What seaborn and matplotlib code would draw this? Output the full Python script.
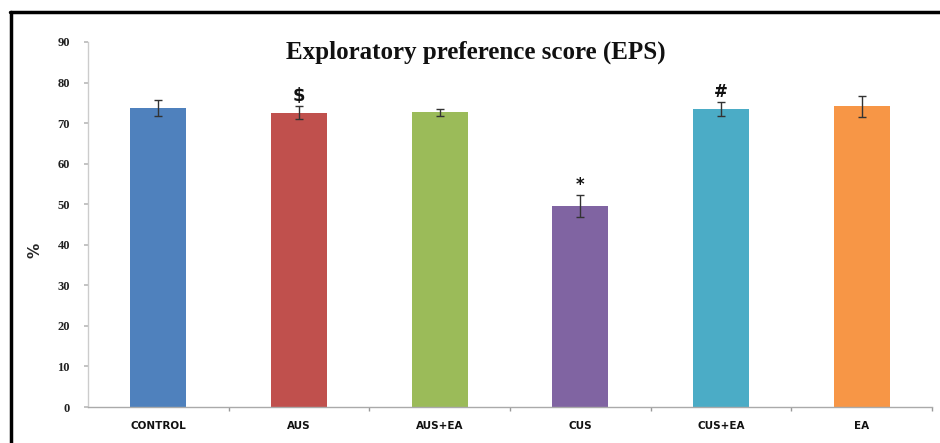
import matplotlib
matplotlib.use("Agg")
import matplotlib.pyplot as plt
from matplotlib.lines import Line2D
from matplotlib.ticker import FixedLocator
import seaborn as sns
import pandas as pd

# Exploratory preference score per group (mean % with SEM)
groups = ["CONTROL", "AUS", "AUS+EA", "CUS", "CUS+EA", "EA"]
eps_mean = [73.7, 72.6, 72.7, 49.6, 73.5, 74.2]
eps_sem = [2.0, 1.6, 0.9, 2.7, 1.8, 2.6]
marks = ["", "$", "", "*", "#", ""]
colors = ["#4F81BD", "#C0504D", "#9BBB59", "#8064A2", "#4BACC6", "#F79646"]
yticks = [0, 10, 20, 30, 40, 50, 60, 70, 80, 90]

df = pd.DataFrame({"group": groups, "eps": eps_mean})

sns.set_theme(style="white")
plt.rcParams["font.family"] = ["DejaVu Sans"]

fig = plt.figure(figsize=(9.4, 4.43), dpi=100)
ax = fig.add_axes([88 / 940, 1 - 407 / 443, (932 - 88) / 940, (407 - 42) / 443])

sns.barplot(data=df, x="group", y="eps", hue="group", palette=colors,
            legend=False, errorbar=None, width=0.4, saturation=1,
            linewidth=0, ax=ax)

xpos = list(range(len(groups)))
ax.errorbar(xpos, eps_mean, yerr=eps_sem, fmt="none", ecolor="#333333",
            elinewidth=1.0, capsize=2.7, capthick=1.0)

mark_size = {"$": 13, "*": 12, "#": 12}
for x, m, s, mk in zip(xpos, eps_mean, eps_sem, marks):
    if mk:
        ax.text(x, m + s + 0.2, mk, ha="center", va="bottom",
                fontsize=mark_size[mk], fontweight="bold", color="#111111")

ax.set_xlim(-0.5, len(groups) - 0.5)
ax.set_ylim(0, 90)
ax.set_yticks(yticks)
ax.set_yticklabels([str(t) for t in yticks], fontsize=9, fontweight="bold",
                   family="Liberation Serif", color="#222222")
ax.set_xticks(xpos)
ax.set_xticklabels(groups, fontsize=7.5, fontweight="bold", color="#111111")
ax.xaxis.set_minor_locator(FixedLocator([i + 0.5 for i in range(len(groups))]))
ax.tick_params(axis="x", which="major", length=0, pad=10)
ax.tick_params(axis="x", which="minor", length=3, color="#999999", direction="out", bottom=True)
ax.tick_params(axis="y", length=3, color="#bbbbbb", direction="out", left=True, pad=10)
ax.set_xlabel("")
ax.set_ylabel("%", fontsize=11, fontweight="bold")
ax.yaxis.set_label_coords((42 - 88) / (932 - 88), (407 - 250) / (407 - 42))

for side in ["top", "right"]:
    ax.spines[side].set_visible(False)
ax.spines["left"].set_color("#cccccc")
ax.spines["bottom"].set_color("#aaaaaa")
ax.spines["left"].set_linewidth(1.0)
ax.spines["bottom"].set_linewidth(1.0)

fig.text(476 / 940, 1 - 52 / 443, "Exploratory preference score (EPS)",
         ha="center", va="center", fontsize=18, fontweight="bold",
         family="Liberation Serif", color="#111111")

# Frame lines along the top and left edges of the figure
fig.add_artist(Line2D([10 / 940, 1.0], [1 - 12 / 443, 1 - 12 / 443],
                      color="black", linewidth=2.5, transform=fig.transFigure))
fig.add_artist(Line2D([11 / 940, 11 / 940], [0, 1 - 12 / 443],
                      color="black", linewidth=2.5, transform=fig.transFigure))

fig.savefig("out.png", dpi=100)
